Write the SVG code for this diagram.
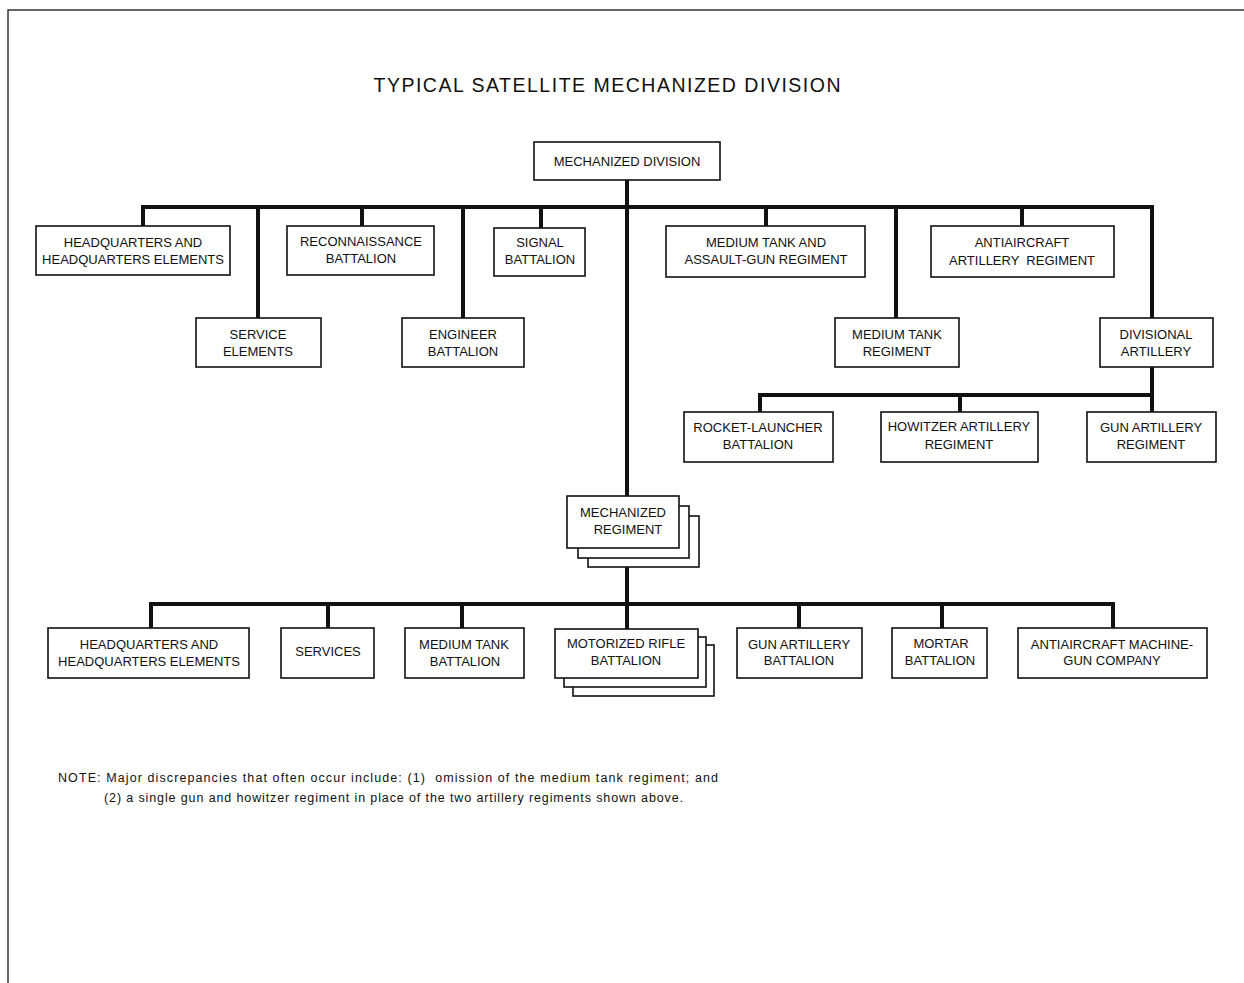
<svg xmlns="http://www.w3.org/2000/svg" width="1244" height="983" viewBox="0 0 1244 983">
<style>
.bx{fill:#fff;stroke:#111;stroke-width:1.6}
.t{font-family:"Liberation Sans",Arial,sans-serif;font-size:13px;fill:#111;text-anchor:middle}
.c{stroke:#111;stroke-width:4;fill:none;stroke-linecap:square}
.fr{stroke:#333;stroke-width:1.5;fill:none}
</style>
<rect width="1244" height="983" fill="#fff"/>
<path class="fr" d="M8,983 V10 H1244"/>
<text x="607" y="92" font-family="'Liberation Sans',Arial,sans-serif" font-size="19.5" fill="#111" text-anchor="middle" textLength="467">TYPICAL SATELLITE MECHANIZED DIVISION</text>

<g id="connectors">
<path class="c" d="M627,180 V629"/>
<path class="c" d="M143,226 V207 H1152 V318"/>
<path class="c" d="M258,207 V318 M362,207 V226 M463,207 V318 M541,207 V228 M766,207 V226 M896,207 V318 M1022,207 V226"/>
<path class="c" d="M1152,367 V412 M760,412 V395 H1152 M960,395 V412"/>
<path class="c" d="M151,628 V604 H1113 V628 M328,604 V628 M462,604 V628 M799,604 V628 M942,604 V628"/>
</g>

<g id="mech-division"><rect class="bx" x="534" y="142" width="186" height="38"/><text class="t" x="627" y="166">MECHANIZED DIVISION</text></g>

<g id="hq"><rect class="bx" x="36" y="226" width="194" height="49"/><text class="t" x="133" y="247">HEADQUARTERS AND</text><text class="t" x="133" y="264">HEADQUARTERS ELEMENTS</text></g>
<g id="recon"><rect class="bx" x="287" y="226" width="147" height="49"/><text class="t" x="361" y="246">RECONNAISSANCE</text><text class="t" x="361" y="263">BATTALION</text></g>
<g id="signal"><rect class="bx" x="494" y="228" width="91" height="48"/><text class="t" x="540" y="247">SIGNAL</text><text class="t" x="540" y="264">BATTALION</text></g>
<g id="service"><rect class="bx" x="196" y="318" width="125" height="49"/><text class="t" x="258" y="339">SERVICE</text><text class="t" x="258" y="356">ELEMENTS</text></g>
<g id="engineer"><rect class="bx" x="402" y="318" width="122" height="49"/><text class="t" x="463" y="339">ENGINEER</text><text class="t" x="463" y="356">BATTALION</text></g>
<g id="mt-ag"><rect class="bx" x="666" y="226" width="199" height="51"/><text class="t" x="766" y="247">MEDIUM TANK AND</text><text class="t" x="766" y="264">ASSAULT-GUN REGIMENT</text></g>
<g id="aa-art"><rect class="bx" x="931" y="226" width="183" height="51"/><text class="t" x="1022" y="247">ANTIAIRCRAFT</text><text class="t" x="1022" y="265" style="white-space:pre">ARTILLERY  REGIMENT</text></g>
<g id="mt-reg"><rect class="bx" x="835" y="318" width="124" height="49"/><text class="t" x="897" y="339">MEDIUM TANK</text><text class="t" x="897" y="356">REGIMENT</text></g>
<g id="div-art"><rect class="bx" x="1100" y="318" width="113" height="49"/><text class="t" x="1156" y="339">DIVISIONAL</text><text class="t" x="1156" y="356">ARTILLERY</text></g>

<g id="rocket"><rect class="bx" x="684" y="412" width="149" height="50"/><text class="t" x="758" y="432">ROCKET-LAUNCHER</text><text class="t" x="758" y="449">BATTALION</text></g>
<g id="howitzer"><rect class="bx" x="881" y="412" width="157" height="50"/><text class="t" x="959" y="431">HOWITZER ARTILLERY</text><text class="t" x="959" y="449">REGIMENT</text></g>
<g id="gun-art-reg"><rect class="bx" x="1087" y="412" width="129" height="50"/><text class="t" x="1151" y="432">GUN ARTILLERY</text><text class="t" x="1151" y="449">REGIMENT</text></g>

<g id="mech-regiment">
<rect class="bx" x="588" y="516" width="111" height="51"/>
<rect class="bx" x="578" y="506" width="111" height="52"/>
<rect class="bx" x="567" y="496" width="112" height="52"/>
<text class="t" x="623" y="517">MECHANIZED</text><text class="t" x="628" y="534">REGIMENT</text></g>

<g id="hq2"><rect class="bx" x="48" y="628" width="201" height="50"/><text class="t" x="149" y="649">HEADQUARTERS AND</text><text class="t" x="149" y="666">HEADQUARTERS ELEMENTS</text></g>
<g id="services"><rect class="bx" x="281" y="628" width="93" height="50"/><text class="t" x="328" y="656">SERVICES</text></g>
<g id="mtb"><rect class="bx" x="405" y="628" width="119" height="50"/><text class="t" x="464" y="649">MEDIUM TANK</text><text class="t" x="465" y="666">BATTALION</text></g>
<g id="motorized">
<rect class="bx" x="573" y="645" width="141" height="51"/>
<rect class="bx" x="564" y="637" width="142" height="50"/>
<rect class="bx" x="555" y="629" width="143" height="49"/>
<text class="t" x="626" y="648">MOTORIZED RIFLE</text><text class="t" x="626" y="665">BATTALION</text></g>
<g id="gun-art-btn"><rect class="bx" x="737" y="628" width="125" height="50"/><text class="t" x="799" y="649">GUN ARTILLERY</text><text class="t" x="799" y="665">BATTALION</text></g>
<g id="mortar"><rect class="bx" x="892" y="628" width="95" height="50"/><text class="t" x="941" y="648">MORTAR</text><text class="t" x="940" y="665">BATTALION</text></g>
<g id="aa-mg"><rect class="bx" x="1018" y="628" width="189" height="50"/><text class="t" x="1112" y="649">ANTIAIRCRAFT MACHINE-</text><text class="t" x="1112" y="665">GUN COMPANY</text></g>

<g id="note" font-family="'Liberation Sans',Arial,sans-serif" font-size="12.5" fill="#111">
<text x="58" y="782" textLength="660" style="white-space:pre">NOTE: Major discrepancies that often occur include: (1)  omission of the medium tank regiment; and</text>
<text x="104" y="802" textLength="579">(2) a single gun and howitzer regiment in place of the two artillery regiments shown above.</text>
</g>
</svg>
